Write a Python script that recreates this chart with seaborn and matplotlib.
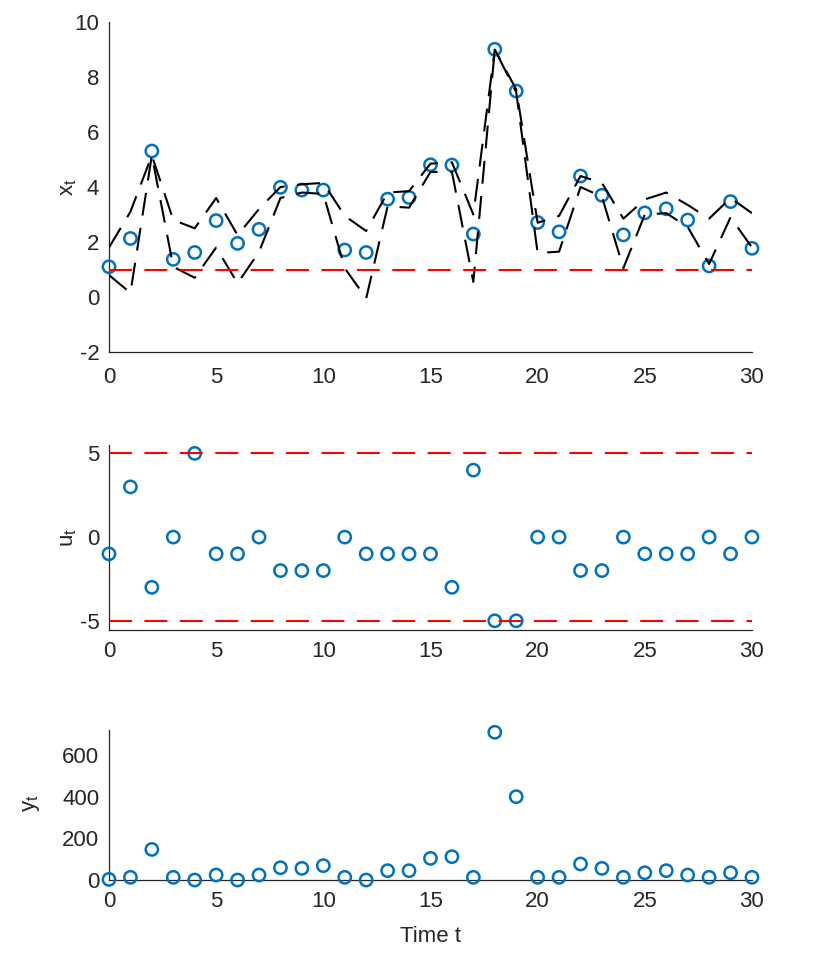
import numpy as np
import pandas as pd
import matplotlib
matplotlib.use("Agg")
import matplotlib.pyplot as plt
import seaborn as sns

# ---------------- data ----------------
t = list(range(31))
x_t = [1.10, 2.13, 5.31, 1.37, 1.62, 2.78, 1.95, 2.46, 3.99, 3.89, 3.89,
       1.71, 1.62, 3.56, 3.62, 4.81, 4.80, 2.29, 9.01, 7.49, 2.71,
       2.37, 4.40, 3.70, 2.26, 3.06, 3.21, 2.80, 1.13, 3.47, 1.77]
bound_a = [1.80, 3.10, 5.15, 2.80, 2.50, 3.60, 2.25, 3.20, 4.00, 4.10, 4.15,
           2.95, 2.40, 3.80, 3.85, 4.85, 4.90, 3.00, 9.00, 7.55, 2.70,
           2.95, 4.40, 4.15, 2.85, 3.55, 3.80, 3.35, 2.85, 3.60, 3.05]
bound_b = [0.80, 0.15, 5.15, 1.10, 0.70, 1.80, 0.50, 1.64, 3.60, 3.80, 3.75,
           1.05, -0.05, 3.30, 3.25, 4.55, 4.55, 0.55, 9.00, 7.45, 1.60,
           1.65, 4.00, 3.65, 1.05, 3.00, 3.05, 2.55, 1.20, 2.90, 1.80]
u_t = [-1, 3, -3, 0, 5, -1, -1, 0, -2, -2, -2, 0, -1, -1, -1, -1, -3, 4,
       -5, -5, 0, 0, -2, -2, 0, -1, -1, -1, 0, -1, 0]
y_t = [3, 13, 147, 13, 0, 24, 0, 24, 59, 56, 69, 13, 0, 45, 45, 104, 112,
       13, 709, 400, 13, 13, 77, 56, 13, 35, 45, 24, 13, 35, 13]
x_threshold = 1.0
u_bounds = [-5, 5]

x_ticks = [0, 5, 10, 15, 20, 25, 30]
x_yticks = [-2, 0, 2, 4, 6, 8, 10]
u_yticks = [-5, 0, 5]
y_yticks = [0, 200, 400, 600]

# ---------------- style ----------------
sns.set_style("white")
plt.rcParams["font.family"] = ["Liberation Sans", "DejaVu Sans"]
plt.rcParams["mathtext.default"] = "regular"
plt.rcParams["axes.unicode_minus"] = False
FS = 16
TXT = "#262626"
BLUE = "#0072BD"

fig = plt.figure(figsize=(8.30, 9.55), dpi=100)
ax1 = fig.add_axes([0.1313, 0.6314, 0.7747, 0.3455])
ax2 = fig.add_axes([0.1313, 0.3403, 0.7747, 0.1937])
ax3 = fig.add_axes([0.1313, 0.0785, 0.7747, 0.1571])

dash = (11, 6)

def circles(ax, y):
    df = pd.DataFrame({"t": t, "v": y})
    sns.scatterplot(data=df, x="t", y="v", ax=ax, marker="o", s=78,
                    facecolor="none", edgecolor=BLUE, linewidth=1.8,
                    clip_on=False, zorder=3, legend=False)

def style(ax, ylim, yticks):
    ax.set_xlim(0, 30)
    ax.set_ylim(*ylim)
    ax.set_xticks(x_ticks)
    ax.set_yticks(yticks)
    for s in ["top", "right"]:
        ax.spines[s].set_visible(False)
    for s in ["left", "bottom"]:
        ax.spines[s].set_color(TXT)
        ax.spines[s].set_linewidth(0.9)
    ax.tick_params(direction="in", length=5, width=0.9, colors=TXT,
                   labelsize=FS)
    ax.tick_params(axis="x", pad=11)
    ax.tick_params(axis="y", pad=7)
    ax.set_xlabel("")

# top panel
circles(ax1, x_t)
for b in (bound_a, bound_b):
    df = pd.DataFrame({"t": t, "v": b})
    sns.lineplot(data=df, x="t", y="v", ax=ax1, color="black", lw=1.5,
                 sort=False, estimator=None, zorder=4, dashes=False,
                 legend=False).lines[-1].set_dashes(dash)
ax1.axhline(x_threshold, color="#FF0000", lw=1.5, dashes=dash, zorder=5)
style(ax1, (-2, 10), x_yticks)
ax1.set_ylabel("x$_t$", fontsize=FS, color=TXT)
ax1.yaxis.set_label_coords(-0.047, 0.5)

# middle panel
circles(ax2, u_t)
for b in u_bounds:
    ax2.axhline(b, color="#FF0000", lw=1.5, dashes=dash, zorder=5)
style(ax2, (-5.55, 5.5), u_yticks)
ax2.tick_params(axis="x", pad=8)
ax2.set_ylabel("u$_t$", fontsize=FS, color=TXT)
ax2.yaxis.set_label_coords(-0.047, 0.5)

# bottom panel
circles(ax3, y_t)
style(ax3, (0, 720), y_yticks)
ax3.tick_params(axis="x", pad=8)
ax3.set_ylabel("y$_t$", fontsize=FS, color=TXT)
ax3.yaxis.set_label_coords(-0.104, 0.51)
ax3.set_xlabel("Time t", fontsize=FS, color=TXT, labelpad=10)

fig.savefig("out.png", dpi=100)
